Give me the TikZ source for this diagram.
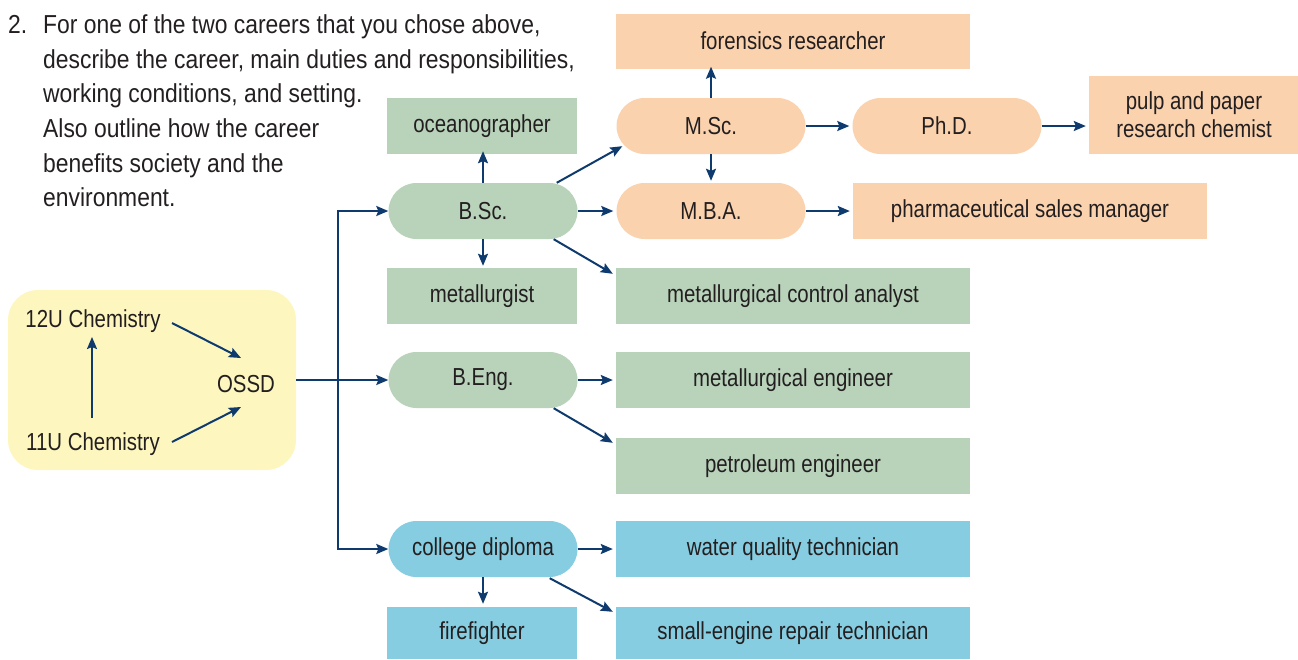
\documentclass[tikz,border=0pt]{standalone}
\usepackage{fontspec}
\setmainfont{Liberation Sans}[FakeStretch=0.83]
\newfontfamily\bodyfont{Liberation Sans}[FakeStretch=0.88]
\usetikzlibrary{arrows.meta,calc}
\definecolor{grn}{HTML}{B9D3BB}
\definecolor{org}{HTML}{FBD2AE}
\definecolor{blu}{HTML}{86CDE1}
\definecolor{yel}{HTML}{FDF7BF}
\definecolor{nav}{HTML}{0E3A6E}
\definecolor{ink}{HTML}{231F20}
\begin{document}
\begin{tikzpicture}[x=1pt,y=-1pt,
  every node/.style={text=ink,font=\fontsize{24.6}{28}\selectfont},
  box/.style={inner sep=0pt,minimum height=56pt,align=center},
  lbox/.style={box,minimum width=190pt},
  rbox/.style={box,minimum width=354pt},
  pill/.style={box,minimum width=189pt,rounded corners=28pt},
  arr/.style={draw=nav,line width=2pt,-{Stealth[length=12pt,width=10pt,inset=2pt]}},
  dbl/.style={draw=nav,line width=2pt,{Stealth[length=12pt,width=10pt,inset=2pt]}-{Stealth[length=12pt,width=10pt,inset=2pt]}},
  txt/.style={anchor=base west,inner sep=0pt,font=\bodyfont\fontsize{26}{30}\selectfont}]
\useasboundingbox (0,0) rectangle (1298,659);
% question text
\node[txt] (n2) at (8,33) {2.};
\node[txt] (l1) at (43,33) {For one of the two careers that you chose above,};
\node[txt] (l2) at (43,68) {describe the career, main duties and responsibilities,};
\node[txt] (l3) at (43,102) {working conditions, and setting.};
\node[txt] (l4) at (43,137) {Also outline how the career};
\node[txt] (l5) at (43,172) {benefits society and the};
\node[txt] (l6) at (43,206) {environment.};
% yellow area
\node[fill=yel,rounded corners=30pt,minimum width=288pt,minimum height=180pt,inner sep=0pt] (ybox) at (152,380) {};
\node[inner sep=0pt] (c12) at (93,321) {12U Chemistry};
\node[inner sep=0pt] (c11) at (93,444) {11U Chemistry};
\node[inner sep=0pt] (ossd) at (246,384) {OSSD};
\draw[arr] ($(c11.center)+(-1,-26)$) -- ($(c12.center)+(-1,16)$);
\draw[arr] ($(c12.center)+(79,2)$) -- ($(ossd.center)+(-5,-26)$);
\draw[arr] ($(c11.center)+(79,-2)$) -- ($(ossd.center)+(-5,23)$);
% left column
\node[pill,fill=grn] (bsc) at (483,211) {B.Sc.};
\node[lbox,fill=grn] (ocean) at (482,126) {oceanographer};
\node[lbox,fill=grn] (metal) at (482,296) {metallurgist};
\node[pill,fill=grn] (beng) at (483,380) {B.Eng.};
\node[pill,fill=blu] (coll) at (483,549) {college diploma};
\node[lbox,fill=blu,minimum height=52pt] (fire) at (482,633) {firefighter};
% right columns
\node[pill,fill=org] (msc) at (711,126) {M.Sc.};
\node[pill,fill=org] (mba) at (711,211) {M.B.A.};
\node[pill,fill=org] (phd) at (947,126) {Ph.D.};
\node[rbox,fill=org,minimum height=55pt] (foren) at (793,41) {forensics researcher};
\node[box,fill=org,minimum width=210pt,minimum height=78pt] (pulp) at (1194,115) {pulp and paper\\research chemist};
\node[rbox,fill=org] (pharm) at (1030,211) {pharmaceutical sales manager};
\node[rbox,fill=grn] (mca) at (793,296) {metallurgical control analyst};
\node[rbox,fill=grn] (meng) at (793,380) {metallurgical engineer};
\node[rbox,fill=grn] (pet) at (793,466) {petroleum engineer};
\node[rbox,fill=blu] (water) at (793,549) {water quality technician};
\node[rbox,fill=blu,minimum height=52pt] (small) at (793,633) {small-engine repair technician};
% trunk
\coordinate (jt) at (338,211);
\coordinate (jb) at (338,549);
\draw[dbl,line join=miter] (bsc.west) -- (jt) -- (jb) -- (coll.west);
\draw[arr] (ybox.east |- beng) -- (beng.west);
% B.Sc.
\draw[arr] (bsc.north) -- ($(ocean.south)+(1,-3)$);
\draw[arr] (bsc.south) -- ($(metal.north)+(1,-2)$);
\draw[arr] ($(bsc.north east)+(-21,0)$) -- ($(msc.south west)+(6,-8)$);
\draw[arr] (bsc.east) -- ($(mba.west)+(-3,0)$);
\draw[arr] ($(bsc.south east)+(-24,0)$) -- ($(mca.north west)+(-3,6)$);
% M.Sc.
\draw[arr] (msc.north) -- ($(foren.south)+(-82,-2)$);
\draw[arr] (msc.south) -- ($(mba.north)+(0,-2)$);
\draw[arr] (msc.east) -- ($(phd.west)+(-3,0)$);
\draw[arr] (phd.east) -- ($(pulp.west|-phd)+(-3,0)$);
\draw[arr] (mba.east) -- ($(pharm.west)+(-3,0)$);
% B.Eng.
\draw[arr] (beng.east) -- ($(meng.west)+(-3,0)$);
\draw[arr] ($(beng.south east)+(-24,0)$) -- ($(pet.north west)+(-3,5)$);
% college
\draw[arr] (coll.east) -- ($(water.west)+(-3,0)$);
\draw[arr] (coll.south) -- ($(fire.north)+(1,-3)$);
\draw[arr] ($(coll.south east)+(-28,1)$) -- ($(small.north west)+(-3,5)$);
\end{tikzpicture}
\end{document}
